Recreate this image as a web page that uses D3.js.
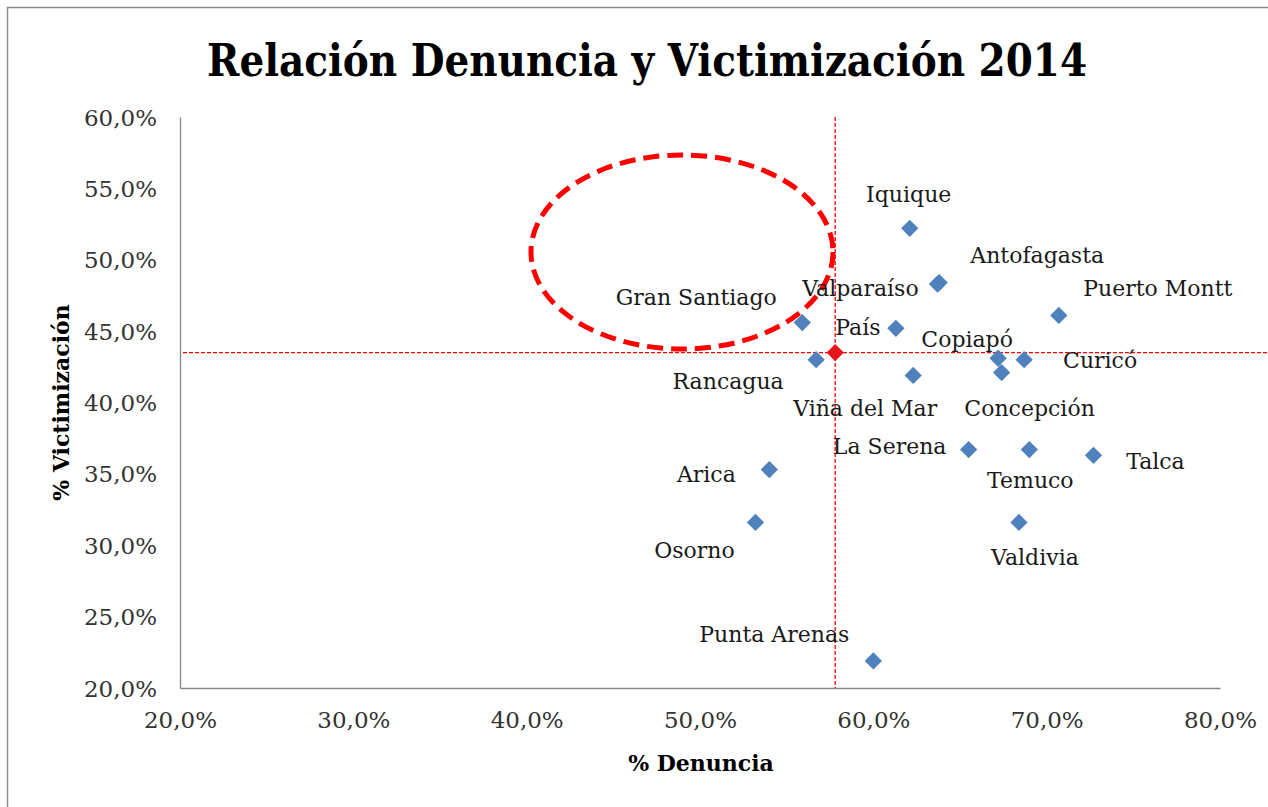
<!DOCTYPE html>
<html>
<head>
<meta charset="utf-8">
<script src="https://cdn.jsdelivr.net/npm/d3@7"></script>
<style>
  body { margin:0; background:#fff; }
  svg { display:block; }
</style>
</head>
<body>
<div id="chart"></div>
<script>
/////////////////////////////////////////////////////////////////////
/////////////////////////data//////////////////////////////////////
////////////////////////////////////////////////////////////////////
var cities = ["Iquique","Antofagasta","Valparaíso","Puerto Montt","Gran Santiago","País",
  "Copiapó","Curicó","Rancagua","Viña del Mar","Concepción","La Serena","Temuco","Talca",
  "Arica","Osorno","Valdivia","Punta Arenas"];
var denuncia = [0.621,0.638,0.637,0.707,0.559,0.613,0.672,0.687,0.567,0.623,0.674,0.655,0.690,0.727,0.540,0.532,0.684,0.600];
var victimizacion = [0.522,0.484,0.483,0.461,0.456,0.452,0.431,0.430,0.430,0.419,0.421,0.367,0.367,0.363,0.353,0.316,0.316,0.219];
// promedio (rombo rojo y lineas de cruce)
var promedioDen = 0.578;
var promedioVic = 0.435;

var xTicks = [0.2,0.3,0.4,0.5,0.6,0.7,0.8];
var yTicks = [0.2,0.25,0.3,0.35,0.4,0.45,0.5,0.55,0.6];

// posicion de las etiquetas respecto del punto (px)
var labelOff = {
  "Iquique":[-1,-34], "Antofagasta":[98,-27], "Valparaíso":[-77,4], "Puerto Montt":[99,-27],
  "Gran Santiago":[-106,-25], "País":[-38,-1], "Copiapó":[-31,-19], "Curicó":[76,1],
  "Rancagua":[-88,22], "Viña del Mar":[-48,33], "Concepción":[28,36], "La Serena":[-79,-3],
  "Temuco":[1,31], "Talca":[62,6], "Arica":[-63,5], "Osorno":[-61,28], "Valdivia":[16,35],
  "Punta Arenas":[-99,-27]
};

/////////////////////////////////////////////////////////////////////
/////////////////////////global variables/////////////////////////////
////////////////////////////////////////////////////////////////////
var wdim = 1268, hdim = 807;
var margin = {top:117, right:48, left:180, bottom:119};
var serif = "'DejaVu Serif', serif";

var svg = d3.select("#chart").append("svg")
  .attr("width", wdim)
  .attr("height", hdim);

svg.append("rect")
  .attr("x", 7.5).attr("y", 7.5)
  .attr("width", wdim + 20).attr("height", hdim + 20)
  .attr("fill", "#fff")
  .attr("stroke", "#8c8c8c")
  .attr("stroke-width", 1.5);

var x = d3.scaleLinear().domain([0.2, 0.8]).range([margin.left, wdim - margin.right]);
var y = d3.scaleLinear().domain([0.2, 0.6]).range([hdim - margin.bottom, margin.top]);
var fmt = function(d){ return d3.format(".1f")(d*100).replace(".", ",") + "%"; };

/////////////////////////////////////////////////////////////////
/////////////////////title and axes/////////////////////////////
///////////////////////////////////////////////////////////////
svg.append("text")
  .attr("x", 647)
  .attr("y", 76)
  .attr("text-anchor", "middle")
  .attr("textLength", 880)
  .attr("lengthAdjust", "spacingAndGlyphs")
  .style("font-family", serif)
  .style("font-weight", "bold")
  .style("font-size", "44px")
  .style("fill", "#000")
  .text("Relación Denuncia y Victimización 2014");

var xAxis = svg.append("g")
  .attr("transform", "translate(0," + y(0.2) + ")")
  .call(d3.axisBottom(x).tickValues(xTicks).tickFormat(fmt).tickSize(0).tickPadding(24));
var yAxis = svg.append("g")
  .attr("transform", "translate(" + x(0.2) + ",0)")
  .call(d3.axisLeft(y).tickValues(yTicks).tickFormat(fmt).tickSize(0).tickPadding(23));

[xAxis, yAxis].forEach(function(a){
  a.select(".domain").attr("stroke", "#868686").attr("stroke-width", 1.3);
  a.selectAll("text")
    .style("font-family", serif)
    .style("font-size", "23px")
    .style("fill", "#333");
});
yAxis.selectAll("text").attr("dy", "0.35em");

svg.append("text")
  .attr("x", 701)
  .attr("y", 771)
  .attr("text-anchor", "middle")
  .style("font-family", serif)
  .style("font-weight", "bold")
  .style("font-size", "22px")
  .text("% Denuncia");

svg.append("text")
  .attr("transform", "translate(69," + (y(0.4)) + ") rotate(-90)")
  .attr("text-anchor", "middle")
  .style("font-family", serif)
  .style("font-weight", "bold")
  .style("font-size", "22px")
  .text("% Victimización");

/////////////////////////////////////////////////////////////////
/////////////////////reference lines + ellipse//////////////////
///////////////////////////////////////////////////////////////
svg.append("line")
  .attr("x1", x(promedioDen)).attr("x2", x(promedioDen))
  .attr("y1", y(0.6)).attr("y2", y(0.2))
  .attr("stroke", "#ff0000").attr("stroke-width", 1.3)
  .attr("stroke-dasharray", "4,2");
svg.append("line")
  .attr("x1", x(0.2) + 3).attr("x2", wdim)
  .attr("y1", y(promedioVic)).attr("y2", y(promedioVic))
  .attr("stroke", "#ff0000").attr("stroke-width", 1.3)
  .attr("stroke-dasharray", "4,2");

svg.append("ellipse")
  .attr("cx", 682).attr("cy", 252)
  .attr("rx", 151).attr("ry", 97)
  .attr("fill", "none")
  .attr("stroke", "#ff0000")
  .attr("stroke-width", 5)
  .attr("stroke-dasharray", "16,8");

/////////////////////////////////////////////////////////////////
/////////////////////points and labels//////////////////////////
///////////////////////////////////////////////////////////////
var pts = cities.map(function(c, i){ return {name:c, dx:denuncia[i], vy:victimizacion[i]}; });
var diamond = d3.symbol().type(d3.symbolDiamond2).size(190);

svg.selectAll(".pt")
  .data(pts)
  .enter().append("path")
  .attr("class", "pt")
  .attr("d", diamond)
  .attr("transform", function(d){ return "translate(" + x(d.dx) + "," + y(d.vy) + ")"; })
  .attr("fill", "#4f81bd");

svg.append("path")
  .attr("d", diamond)
  .attr("transform", "translate(" + x(promedioDen) + "," + y(promedioVic) + ")")
  .attr("fill", "#e8141c");

svg.selectAll(".lbl")
  .data(pts)
  .enter().append("text")
  .attr("class", "lbl")
  .attr("x", function(d){ return x(d.dx) + labelOff[d.name][0]; })
  .attr("y", function(d){ return y(d.vy) + labelOff[d.name][1]; })
  .attr("dy", "0.35em")
  .attr("text-anchor", "middle")
  .style("font-family", serif)
  .style("font-size", "22px")
  .style("fill", "#1a1a1a")
  .text(function(d){ return d.name; });
</script>
</body>
</html>
